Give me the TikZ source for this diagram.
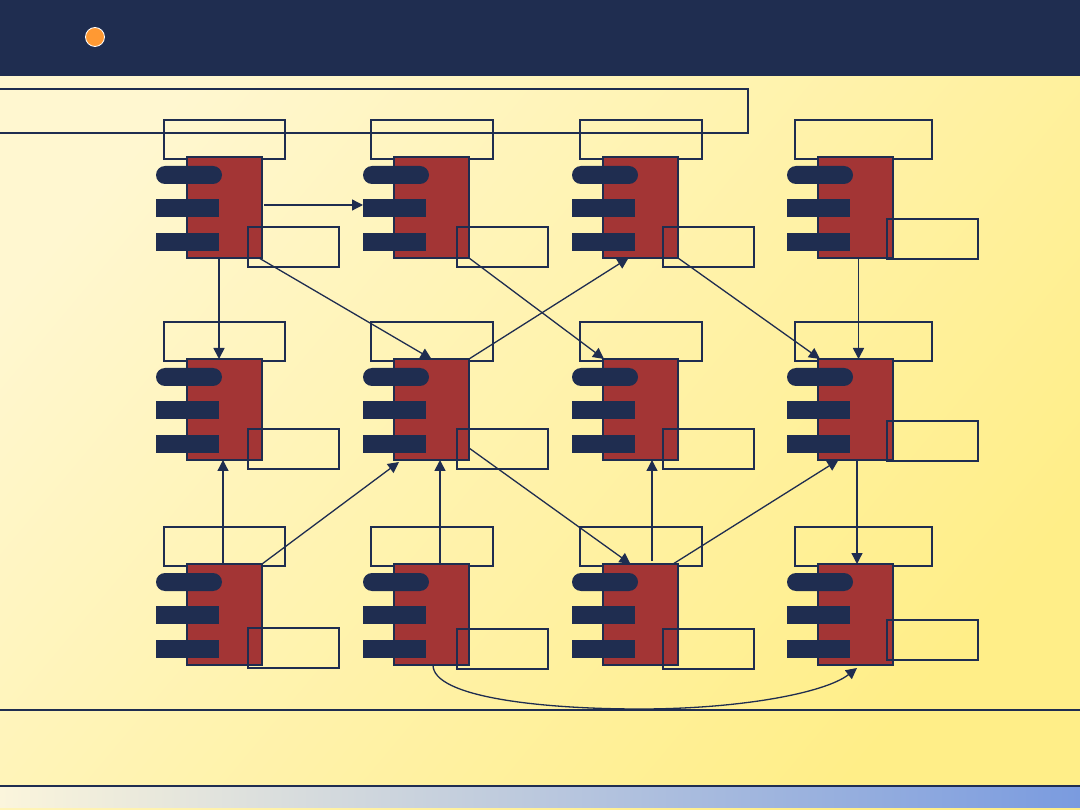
\documentclass[tikz,border=0pt]{standalone}
\usetikzlibrary{arrows.meta,calc}
\definecolor{navy}{HTML}{1F2D50}
\definecolor{bodyred}{HTML}{A33535}
\definecolor{dotorange}{HTML}{FF9933}
\definecolor{bglight}{HTML}{FFF7D0}
\definecolor{bgyellow}{HTML}{FFEE88}
\definecolor{barlight}{HTML}{FBF5DC}
\definecolor{barblue}{HTML}{7A9BDF}
\tikzset{
  body/.style={draw=navy, fill=bodyred, line width=1.8pt, minimum width=75pt, minimum height=101pt, inner sep=0pt, outer sep=0pt, anchor=north west},
  topbox/.style={draw=navy, line width=1.4pt, minimum height=39pt, inner sep=0pt, outer sep=0pt, anchor=north west},
  pill/.style={fill=navy, rounded corners=9pt, minimum width=66pt, minimum height=18pt, inner sep=0pt, outer sep=0pt, anchor=north west},
  tab/.style={fill=navy, minimum width=63pt, minimum height=18pt, inner sep=0pt, outer sep=0pt, anchor=north west},
  lbox/.style={draw=navy, line width=1.4pt, minimum width=91pt, minimum height=40pt, inner sep=0pt, outer sep=0pt, anchor=north west},
  arr/.style={draw=navy, line width=1.3pt, -{Triangle[length=11pt,width=11pt]}},
  arrthick/.style={arr, line width=1.7pt},
  rule/.style={draw=navy, line width=1.2pt}
}
% #1 name, #2 left x, #3 top y, #4 lower box dx, #5 lower box dy, #6 top box width
\newcommand{\mycomp}[6]{%
  \node[topbox, minimum width=#6] (#1t) at ({#2-23},{#3-37}) {};
  \node[body] (#1) at (#2,#3) {};
  \node[pill] (#1p) at ({#2-31},{#3+9}) {};
  \node[tab] (#1a) at ({#2-31},{#3+42}) {};
  \node[tab] (#1b) at ({#2-31},{#3+76}) {};
  \node[lbox] (#1l) at ({#2+#4},{#3+#5}) {};
}
\begin{document}
\begin{tikzpicture}[x=1pt,y=-1pt]
\useasboundingbox (0,0) rectangle (1080,810);
\clip (0,0) rectangle (1080,810);
% background
\shade[top color=bglight, bottom color=bgyellow, shading angle=50] (0,0) rectangle (1080,810);
% header
\fill[navy] (0,0) rectangle (1080,76);
\node[circle, fill=dotorange, draw=white, line width=0.8pt, minimum size=19pt, inner sep=0pt] (dot) at (95,37) {};
% open frame
\draw[rule, line width=1.3pt] (-5,89) -- (748,89) -- (748,133) -- (-5,133);
% bottom rules and bar
\draw[rule] (0,710) -- (1080,710);
\shade[left color=barlight, right color=barblue] (0,786) rectangle (1080,807);
\draw[rule] (0,786) -- (1080,786);
% components
\mycomp{c11}{187}{157}{61}{70}{121pt}
\mycomp{c12}{394}{157}{63}{70}{122pt}
\mycomp{c13}{603}{157}{60}{70}{122pt}
\mycomp{c14}{818}{157}{69}{62}{137pt}
\mycomp{c21}{187}{359}{61}{70}{121pt}
\mycomp{c22}{394}{359}{63}{70}{122pt}
\mycomp{c23}{603}{359}{60}{70}{122pt}
\mycomp{c24}{818}{359}{69}{62}{137pt}
\mycomp{c31}{187}{564}{61}{64}{121pt}
\mycomp{c32}{394}{564}{63}{65}{122pt}
\mycomp{c33}{603}{564}{60}{65}{122pt}
\mycomp{c34}{818}{564}{69}{56}{137pt}
% connectors
\draw[arr] ([xshift=2pt,yshift=2.5pt]c11.east) -- ([yshift=2.5pt]c11.east -| c12b.west);
\draw[arrthick] ([xshift=-5.5pt]c11.south) -- ([xshift=-5.5pt]c21.north);
\draw[arr] ([xshift=-3pt]c11.south east) -- (c22.north);
\draw[arr] (c12.south east) -- ([xshift=1pt]c23.north west);
\draw[arr] (c22.north east) -- ([xshift=-12pt]c13.south);
\draw[arr] (c13.south east) -- ([xshift=2pt]c24.north west);
\draw[arrthick] ([xshift=3pt]c14.south) -- ([xshift=3pt]c24.north);
\draw[arr] ([xshift=-1.5pt]c31.north) -- ([xshift=-1.5pt]c21.south);
\draw[arr] (c31.north east) -- ([xshift=5pt,yshift=-2pt]c22.south west);
\draw[arrthick] ([xshift=8.5pt]c32.north) -- ([xshift=8.5pt]c22.south);
\draw[arr] ([yshift=12pt]c22.south east) -- ([xshift=-10pt]c33.north);
\draw[arr] ([xshift=11.5pt,yshift=3pt]c33.north) -- ([xshift=11.5pt]c23.south);
\draw[arr] ([xshift=-5pt]c33.north east) -- ([xshift=-17pt]c24.south);
\draw[arr] ([xshift=1.5pt]c24.south) -- ([xshift=1.5pt]c34.north);
\coordinate (cm) at (640,709);
\draw[arr] ([xshift=1.5pt]c32.south) .. controls +(0,32) and +(-100,0) .. (cm) .. controls +(100,0) and +(-32,25) .. ([xshift=1.5pt,yshift=-3pt]c34.south);
\end{tikzpicture}
\end{document}
